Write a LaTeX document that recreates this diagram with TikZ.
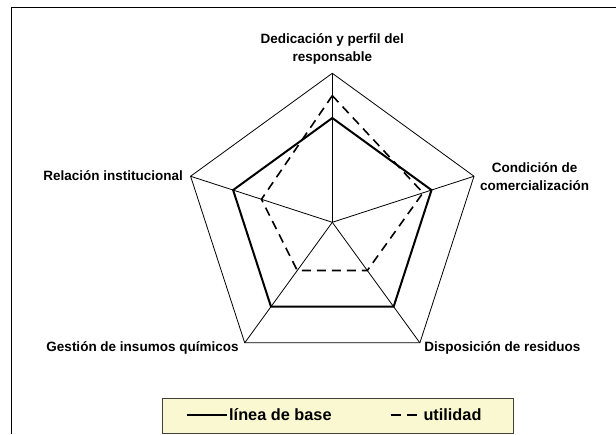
\documentclass[tikz,border=0pt]{standalone}
\usepackage{fontspec}
\setmainfont{Liberation Sans}
\usetikzlibrary{positioning}
\definecolor{legendfill}{RGB}{250,248,208}

\begin{document}
\begin{tikzpicture}[x=1pt,y=1pt,line join=miter]
        \tikzstyle{grid}=[line width=0.8pt,black]
        \tikzstyle{base}=[line width=2pt]
        \tikzstyle{util}=[line width=1.6pt,dash pattern=on 9pt off 6pt]
        \tikzstyle{axislabel}=[font=\fontsize{13.5}{18}\selectfont\bfseries,inner sep=0pt,align=center]
        \tikzstyle{legendtext}=[font=\fontsize{16.3}{18}\selectfont\bfseries,inner sep=0pt]
        \useasboundingbox (0,0) rectangle (616,434);
        \draw[line width=0.9pt] (11.7,0) -- (11.7,427) -- (616,427);
        \begin{scope}[shift={(332.3,211.7)}]
        \coordinate (c) at (0,0);
        \foreach \name/\ang/\b/\u in {ded/90/0.7/0.85,com/18/0.7/0.64,res/-54/0.7/0.4,qui/-126/0.7/0.4,rel/162/0.7/0.5}{
            \coordinate (\name) at (\ang:149);
            \coordinate (\name-b) at (\ang:{149*\b});
            \coordinate (\name-u) at (\ang:{149*\u});
        }
        \end{scope}
        \draw[grid] (ded) -- (com) -- (res) -- (qui) -- (rel) -- cycle;
        \foreach \name in {ded,com,res,qui,rel}
            \draw[grid] (c) -- (\name);
        \draw[base] (ded-b) -- (com-b) -- (res-b) -- (qui-b) -- (rel-b) -- cycle;
        \draw[util] (ded-u) -- (com-u) -- (res-u) -- (qui-u) -- (rel-u) -- cycle;
        \node[axislabel,above=8.7pt of ded] (lded) {Dedicación y perfil del\\responsable};
        \node[axislabel,right=6pt of com] (lcom) {Condición de\\comercialización};
        \node[axislabel,anchor=base east] (lrel) at ([xshift=-7.4pt,yshift=-3.8pt]rel) {Relación institucional};
        \node[axislabel,anchor=base east] (lqui) at ([xshift=-6pt,yshift=-8.8pt]qui) {Gestión de insumos químicos};
        \node[axislabel,anchor=base west] (lres) at ([xshift=4.3pt,yshift=-8.8pt]res) {Disposición de residuos};
        \node[draw=black!75,line width=0.8pt,fill=legendfill,minimum width=350.8pt,minimum height=35pt,anchor=south west,inner sep=0pt] (legend) at (161.7,0.7) {};
        \coordinate (bs) at (187.3,19);
        \coordinate (be) at (226.7,19);
        \coordinate (us) at (390.7,19);
        \coordinate (ue) at (416.7,19);
        \draw[base] (bs) -- (be);
        \node[legendtext,anchor=base west] (lbase) at (229,13.5) {línea de base};
        \draw[util,dash pattern=on 10pt off 6pt] (us) -- (ue);
        \node[legendtext,anchor=base west] (lutil) at (423.3,13.5) {utilidad};
\end{tikzpicture}
\end{document}
